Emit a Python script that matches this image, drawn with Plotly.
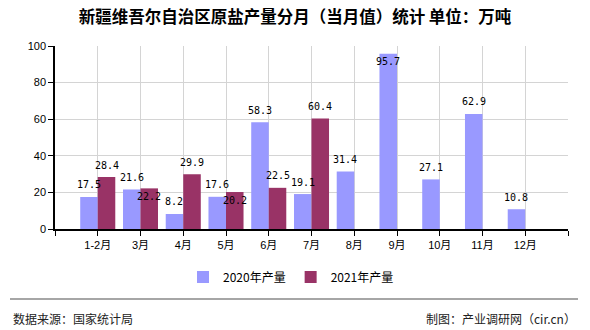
import plotly.graph_objects as go

# Monthly raw salt output, Xinjiang (unit: 10k tonnes)
months = ["1-2月", "3月", "4月", "5月", "6月", "7月", "8月", "9月", "10月", "11月", "12月"]
output_2020 = [17.5, 21.6, 8.2, 17.6, 58.3, 19.1, 31.4, 95.7, 27.1, 62.9, 10.8]
output_2021 = [28.4, 22.2, 29.9, 20.2, 22.5, 60.4, None, None, None, None, None]

# labels that sit just inside the top of their bar instead of above it
inside_2020 = {"9月"}
inside_2021 = {"3月", "5月"}

C2020 = "#9999FF"
C2021 = "#993366"
CJK = "Noto Sans CJK SC"
LAT = "Liberation Sans, Noto Sans CJK SC"

# plot area in pixels (used to place footer items outside the axes)
W, H = 590, 330
L, R, T, B = 55, 22, 46, 101
PW, PH = W - L - R, H - T - B


def px_x(px):
    return (px - L) / PW


def px_y(py):
    return (H - B - py) / PH


xs = list(range(len(months)))

fig = go.Figure()
fig.add_trace(go.Bar(x=xs, y=output_2020, name="2020年产量", marker=dict(color=C2020, line=dict(width=0))))
fig.add_trace(go.Bar(x=xs, y=output_2021, name="2021年产量", marker=dict(color=C2021, line=dict(width=0))))

bar_half = 0.205
annotations = []
for series, off, inside in ((output_2020, -bar_half, inside_2020), (output_2021, bar_half, inside_2021)):
    for i, v in enumerate(series):
        if v is None:
            continue
        annotations.append(dict(
            x=i + off, y=v, xref="x", yref="y", text=f"{v:.1f}", showarrow=False,
            yanchor="middle", xanchor="center",
            yshift=-8 if months[i] in inside else 12,
            font=dict(family="DejaVu Sans Mono", size=10, color="#000"),
        ))

# footer
annotations.append(dict(x=px_x(11), y=px_y(318), xref="paper", yref="paper", text="数据来源：国家统计局",
                        showarrow=False, xanchor="left", yanchor="middle",
                        font=dict(family=CJK, size=12, color="#222")))
annotations.append(dict(x=px_x(578), y=px_y(318), xref="paper", yref="paper", text="制图：产业调研网（cir.cn）",
                        showarrow=False, xanchor="right", yanchor="middle",
                        font=dict(family=CJK, size=12, color="#222")))

shapes = [dict(type="line", xref="paper", yref="paper", x0=px_x(10), x1=px_x(578),
               y0=px_y(299), y1=px_y(299), line=dict(color="#888888", width=1.5))]

fig.update_layout(
    width=W, height=H,
    margin=dict(l=L, r=R, t=T, b=B, pad=0),
    paper_bgcolor="white", plot_bgcolor="white",
    barmode="group", bargap=0.18, bargroupgap=0,
    title=dict(text="新疆维吾尔自治区原盐产量分月（当月值）统计 单位：万吨",
               x=0.5, xref="container", xanchor="center",
               y=1 - 17 / H, yref="container", yanchor="middle",
               font=dict(family=CJK, size=16.5, color="#000", weight="bold")),
    legend=dict(orientation="h", xref="container", yref="container",
                x=291 / W, xanchor="center", y=1 - 277 / H, yanchor="middle",
                font=dict(family=CJK, size=12, color="#000"),
                itemwidth=30, traceorder="normal"),
    xaxis=dict(range=[-1, len(months)], tickvals=list(range(-1, len(months) + 1)),
               ticktext=[""] + months + [""],
               showgrid=True, gridcolor="#d4d4d4", gridwidth=1,
               showline=True, linecolor="#000", linewidth=1.5,
               ticks="outside", ticklen=5, tickcolor="#000",
               tickfont=dict(family=LAT, size=11, color="#000"),
               zeroline=False, fixedrange=True),
    yaxis=dict(range=[0, 100], dtick=20, showgrid=True, gridcolor="#d4d4d4", gridwidth=1,
               showline=True, linecolor="#000", linewidth=1.5,
               ticks="outside", ticklen=5, tickcolor="#000",
               tickfont=dict(family=LAT, size=11, color="#000"),
               zeroline=False, fixedrange=True),
    annotations=annotations,
    shapes=shapes,
)

fig.write_html("out.html")
